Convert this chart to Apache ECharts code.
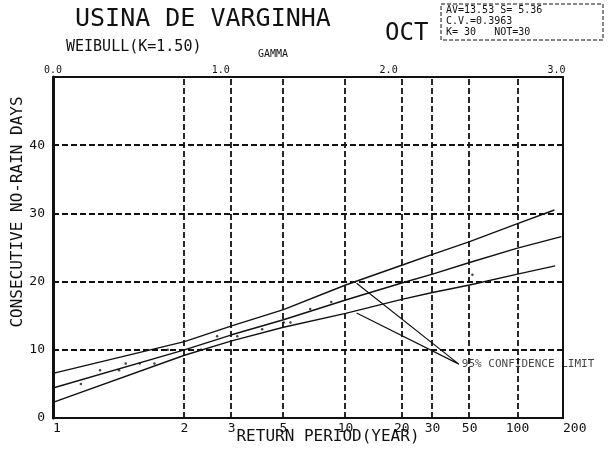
<!DOCTYPE html>
<html>
<head>
<meta charset="utf-8">
<script src="https://cdn.jsdelivr.net/npm/echarts@6/dist/echarts.min.js"></script>
<style>
  html, body { margin: 0; padding: 0; background: #fff; }
  #chart { width: 609px; height: 455px; }
</style>
</head>
<body>
<div id="chart"></div>
<script>
// Weibull probability paper: the horizontal coordinate is the reduced
// variate gamma = (ln T)^(1/K) for a return period T.
const WEIBULL_K = 1.5;

const returnPeriodTicks = [1, 2, 3, 5, 10, 20, 30, 50, 100, 200];
const returnPeriodGrid = [2, 3, 5, 10, 20, 30, 50, 100];
const gammaTicks = [0, 1, 2, 3];
const dayGrid = [10, 20, 30, 40];

// fitted Weibull line and its 95% confidence limits
const upperT = [1, 2, 3, 5, 10, 20, 30, 50, 100, 175];
const upperDays = [6.55, 11.2, 13.5, 15.9, 19.5, 22.4, 24.0, 25.85, 28.5, 30.5];
const fitT = [1, 2, 3, 5, 10, 20, 30, 50, 100, 195];
const fitDays = [4.4, 10.0, 12.2, 14.4, 17.3, 19.8, 21.1, 22.8, 24.9, 26.6];
const lowerT = [1, 2, 3, 5, 10, 20, 30, 50, 100, 177];
const lowerDays = [2.3, 9.2, 11.3, 13.3, 15.35, 17.4, 18.4, 19.5, 21.1, 22.3];

// observed annual maxima (plotting positions)
const obsT = [1.07, 1.16, 1.28, 1.33, 1.45, 1.60, 1.76, 2.29, 2.63, 3.16, 4.02, 5.01, 5.38, 6.67, 8.46, 52];
const obsDays = [5, 7, 7, 8, 8, 8, 10, 10, 12, 12, 13, 14, 14, 16, 17, 21];

// leader lines to the confidence-limit note
const leaderT = [11.4, 43, 11.4];
const leaderDays = [19.75, 7.9, 15.4];
const leaderText = '95% CONFIDENCE LIMIT';

const gammaOf = T => Math.pow(Math.log(T), 1 / WEIBULL_K);
const pairs = (ts, vs) => ts.map((t, i) => [gammaOf(t), vs[i]]);
const GAMMA_MAX = gammaOf(returnPeriodTicks[returnPeriodTicks.length - 1]);

const MONO = '"DejaVu Sans Mono", "Liberation Mono", monospace';
const INK = '#111';

const chart = echarts.init(document.getElementById('chart'), null, { renderer: 'canvas' });

const curveStyle = { color: INK, width: 1.4 };
const dashed = { color: INK, width: 1.8, type: [6, 3] };

chart.setOption({
  animation: false,
  backgroundColor: '#fff',
  grid: {
    left: 53, right: 46, top: 77, bottom: 37,
    show: true, borderColor: INK, borderWidth: 2, backgroundColor: 'transparent'
  },
  xAxis: [
    {
      type: 'value', position: 'bottom', min: 0, max: GAMMA_MAX,
      axisLine: { show: false }, axisTick: { show: false }, splitLine: { show: false },
      axisLabel: {
        customValues: returnPeriodTicks.map(gammaOf),
        formatter: v => String(Math.round(Math.exp(Math.pow(v, WEIBULL_K)))),
        color: INK, fontFamily: MONO, fontSize: 13, margin: 4,
        showMinLabel: true, showMaxLabel: true, hideOverlap: false,
        alignMinLabel: 'left', alignMaxLabel: 'left'
      }
    },
    {
      type: 'value', position: 'top', min: 0, max: GAMMA_MAX,
      axisLine: { show: false }, axisTick: { show: false }, splitLine: { show: false },
      axisLabel: {
        customValues: gammaTicks,
        formatter: v => v.toFixed(1),
        color: INK, fontFamily: MONO, fontSize: 10, margin: 2,
        showMinLabel: true, showMaxLabel: true
      }
    }
  ],
  yAxis: [
    {
      type: 'value', min: 0, max: 50, interval: 10,
      axisLine: { show: false }, axisTick: { show: false },
      splitLine: { show: false },
      axisLabel: {
        formatter: v => (v === 50 ? '' : String(v)),
        color: INK, fontFamily: MONO, fontSize: 13, margin: 8
      }
    },
    {
      type: 'value', position: 'right', min: 0, max: 50,
      axisLine: { show: true, lineStyle: { color: INK, width: 3 } },
      axisTick: { show: false }, axisLabel: { show: false }, splitLine: { show: false }
    }
  ],
  series: [
    {
      type: 'line', name: 'grid', data: [], silent: true,
      markLine: {
        silent: true, symbol: 'none', label: { show: false },
        lineStyle: dashed,
        data: returnPeriodGrid.map(t => ({ xAxis: gammaOf(t) }))
          .concat(dayGrid.map(d => ({ yAxis: d })))
      }
    },
    { type: 'line', name: 'upper', data: pairs(upperT, upperDays), showSymbol: false, lineStyle: curveStyle, z: 3 },
    { type: 'line', name: 'fit', data: pairs(fitT, fitDays), showSymbol: false, lineStyle: curveStyle, z: 3 },
    { type: 'line', name: 'lower', data: pairs(lowerT, lowerDays), showSymbol: false, lineStyle: curveStyle, z: 3 },
    {
      type: 'scatter', name: 'observed', data: pairs(obsT, obsDays),
      symbol: 'circle', symbolSize: 2.5, itemStyle: { color: INK }, z: 4
    },
    {
      type: 'line', name: 'leader', data: pairs(leaderT, leaderDays),
      showSymbol: false, lineStyle: { color: INK, width: 1.2 }, z: 3
    },
    {
      type: 'scatter', name: 'note', data: [pairs([leaderT[1]], [leaderDays[1]])[0]],
      symbolSize: 0, z: 5,
      label: {
        show: true, position: 'right', distance: 3, formatter: leaderText,
        color: INK, fontFamily: MONO, fontSize: 11
      }
    }
  ],
  graphic: [
    { type: 'text', left: 75, top: 7, style: { text: 'USINA DE VARGINHA', font: '25px ' + MONO, fill: INK } },
    { type: 'text', left: 385, top: 22, style: { text: 'OCT', font: '24px ' + MONO, fill: INK } },
    { type: 'text', left: 66, top: 40, style: { text: 'WEIBULL(K=1.50)', font: '15px ' + MONO, fill: INK } },
    { type: 'text', left: 258, top: 49, style: { text: 'GAMMA', font: '10px ' + MONO, fill: INK } },
    {
      type: 'rect', shape: { x: 441, y: 4, width: 162, height: 36 },
      style: { fill: 'none', stroke: INK, lineWidth: 1, lineDash: [4, 2] }
    },
    { type: 'text', left: 446, top: 5, style: { text: 'AV=13.53 S= 5.36', font: '10px ' + MONO, fill: INK } },
    { type: 'text', left: 446, top: 16, style: { text: 'C.V.=0.3963', font: '10px ' + MONO, fill: INK } },
    { type: 'text', left: 446, top: 27, style: { text: 'K= 30   NOT=30', font: '10px ' + MONO, fill: INK } },
    {
      type: 'text', x: 18, y: 212, rotation: Math.PI / 2,
      style: { text: 'CONSECUTIVE NO-RAIN DAYS', font: '16px ' + MONO, fill: INK, align: 'center', verticalAlign: 'middle' }
    },
    {
      type: 'text', x: 328, y: 437,
      style: { text: 'RETURN PERIOD(YEAR)', font: '16px ' + MONO, fill: INK, align: 'center', verticalAlign: 'middle' }
    }
  ]
});
</script>
</body>
</html>
